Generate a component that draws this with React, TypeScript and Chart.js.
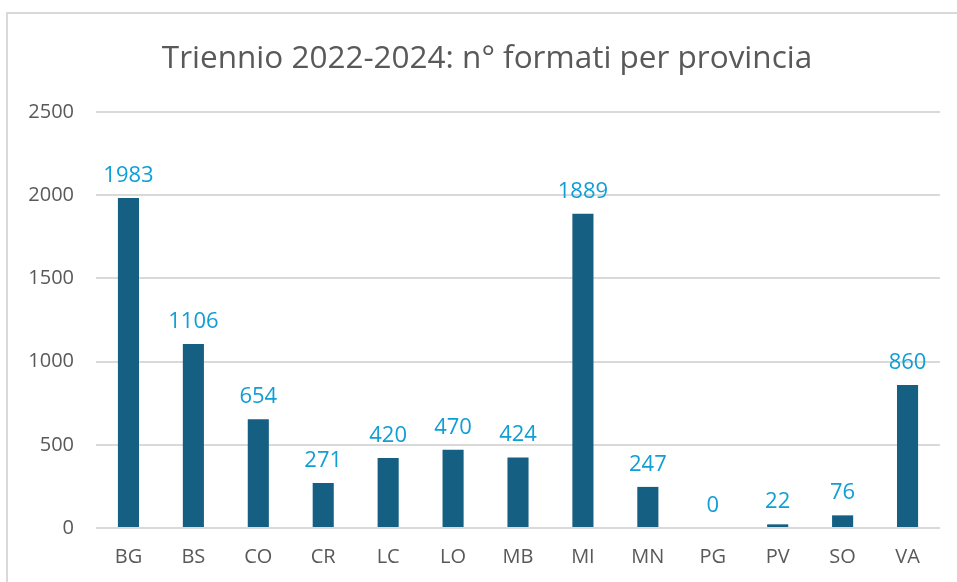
import React, { useEffect, useRef } from "react";
import { Chart, registerables } from "chart.js";

Chart.register(...registerables);

const TITLE = "Triennio 2022-2024: n° formati per provincia";
const categories = ["BG", "BS", "CO", "CR", "LC", "LO", "MB", "MI", "MN", "PG", "PV", "SO", "VA"];
const values = [1983, 1106, 654, 271, 420, 470, 424, 1889, 247, 0, 22, 76, 860];
const yTicks = [0, 500, 1000, 1500, 2000, 2500];

const BAR = "#156082";
const LABEL = "#0F9ED5";
const TEXT = "#595959";
const GRID = "#d9d9d9";
const FONT = "'Open Sans', 'Liberation Sans', sans-serif";

const labelPlugin = {
  id: "valueLabels",
  afterDatasetsDraw(chart: any) {
    const ctx = chart.ctx;
    const meta = chart.getDatasetMeta(0);
    ctx.save();
    ctx.font = `22px ${FONT}`;
    ctx.fillStyle = LABEL;
    ctx.textAlign = "center";
    ctx.textBaseline = "alphabetic";
    meta.data.forEach((el: any, i: number) => {
      ctx.fillText(String(values[i]), el.x, el.y - 16);
    });
    ctx.restore();
  },
};

export default function App() {
  const ref = useRef<HTMLCanvasElement>(null);
  useEffect(() => {
    if (!ref.current) return;
    const chart = new Chart(ref.current, {
      type: "bar",
      data: {
        labels: categories,
        datasets: [
          {
            data: values,
            backgroundColor: BAR,
            barPercentage: 0.65,
            categoryPercentage: 0.5,
          },
        ],
      },
      options: {
        animation: false,
        responsive: false,
        maintainAspectRatio: false,
        layout: { padding: { left: 0, right: 17, top: 112, bottom: 0 } },
        plugins: {
          legend: { display: false },
          tooltip: { enabled: false },
          title: { display: false },
        },
        scales: {
          x: {
            grid: { display: false, drawTicks: false },
            border: { display: false },
            ticks: { color: TEXT, font: { family: FONT, size: 20 }, padding: 17 },
            afterFit: (s: any) => { s.height = 54; },
          },
          y: {
            min: 0,
            max: 2500,
            afterBuildTicks: (s: any) => { s.ticks = yTicks.map((v) => ({ value: v })); },
            grid: { color: GRID, lineWidth: 2, drawTicks: false },
            border: { display: false },
            ticks: {
              color: TEXT,
              font: { family: FONT, size: 20 },
              padding: 22,
              callback: (v: any) => String(v),
            },
            afterFit: (s: any) => { s.width = 96; },
          },
        },
      },
      plugins: [labelPlugin],
    });
    return () => chart.destroy();
  }, []);
  return (
    <div style={{ position: "fixed", left: 0, top: 0, width: 957, height: 582, background: "#fff", overflow: "hidden" }}>
      <div
        style={{
          position: "absolute",
          left: 6,
          top: 12,
          width: 960,
          height: 580,
          borderTop: `2px solid ${GRID}`,
          borderLeft: `2px solid ${GRID}`,
        }}
      />
      <canvas ref={ref} width={957} height={582} style={{ position: "absolute", left: 0, top: 0 }} />
      <div
        style={{
          position: "absolute",
          left: 7,
          top: 34,
          width: 960,
          textAlign: "center",
          fontFamily: FONT,
          fontSize: 31.5,
          lineHeight: "43px",
          color: TEXT,
          whiteSpace: "nowrap",
        }}
      >
        {TITLE}
      </div>
    </div>
  );
}
